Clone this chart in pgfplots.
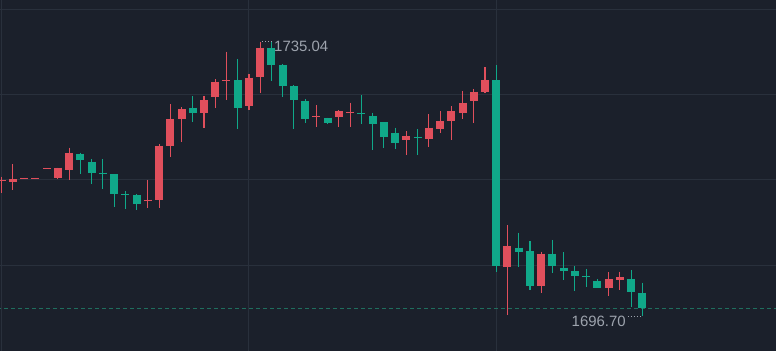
\documentclass[border=0pt]{standalone}
\usepackage{fontspec}
\setmainfont{Liberation Sans}
\usepackage{pgfplots}
\usepackage{pgfplotstable}
\pgfplotsset{compat=1.18}
\definecolor{bgc}{HTML}{1B202B}
\definecolor{gridc}{HTML}{29303C}
\definecolor{upc}{HTML}{E04F5C}
\definecolor{dnc}{HTML}{10A889}
\definecolor{lastc}{HTML}{1F6E5E}
\definecolor{lblc}{HTML}{9DA3AD}
\pgfplotstableread{
i o h l c
0 1715.51 1716.16 1713.84 1715.65
1 1715.46 1717.93 1714.30 1715.79
2 1715.88 1715.98 1715.88 1715.98
3 1715.88 1715.98 1715.88 1715.98
4 1717.23 1717.37 1717.23 1717.37
5 1716.02 1717.41 1715.84 1717.41
6 1717.09 1720.21 1715.70 1719.51
13 1712.83 1715.70 1711.83 1712.97
14 1712.90 1720.72 1711.83 1720.40
15 1720.44 1726.31 1718.95 1724.22
16 1724.26 1725.85 1721.05 1725.61
18 1725.10 1727.43 1723.00 1726.87
19 1727.25 1729.76 1725.79 1729.43
20 1729.50 1733.62 1726.87 1729.63
22 1725.99 1730.50 1725.47 1729.98
23 1730.04 1735.04 1727.89 1734.17
28 1724.45 1726.17 1723.14 1724.59
30 1724.54 1725.47 1723.14 1725.29
31 1725.12 1726.49 1723.14 1725.26
36 1721.28 1722.54 1719.19 1721.80
38 1721.42 1724.91 1720.35 1723.00
39 1722.82 1725.33 1722.30 1723.89
40 1723.89 1726.03 1721.28 1725.29
41 1725.10 1728.13 1724.22 1726.49
42 1726.69 1728.41 1723.70 1728.03
43 1728.03 1731.44 1727.81 1729.66
45 1703.61 1709.41 1696.84 1706.48
48 1700.82 1705.68 1699.98 1705.40
54 1700.54 1702.80 1699.45 1701.84
55 1701.73 1702.89 1700.40 1702.08
}\upT
\pgfplotstableread{
i o h l c
7 1719.33 1719.51 1716.53 1718.49
8 1718.25 1718.63 1715.18 1716.72
9 1716.74 1718.63 1714.44 1716.60
10 1716.53 1716.53 1711.97 1713.74
11 1713.77 1714.09 1711.65 1713.63
12 1713.56 1713.74 1711.51 1712.39
17 1725.79 1727.43 1723.84 1725.10
21 1729.62 1732.60 1722.82 1725.79
24 1734.17 1734.93 1729.57 1731.76
25 1731.76 1731.90 1727.33 1728.82
26 1728.78 1728.96 1722.82 1726.87
27 1726.73 1726.97 1723.62 1724.22
29 1724.40 1724.40 1723.52 1723.70
32 1725.03 1727.57 1723.52 1724.89
33 1724.59 1725.10 1719.84 1723.52
34 1723.75 1723.75 1720.12 1721.74
35 1722.30 1723.00 1719.98 1720.91
37 1721.67 1722.82 1719.19 1721.53
44 1729.66 1731.76 1702.89 1703.68
46 1706.24 1708.34 1703.50 1705.68
47 1705.71 1707.13 1700.33 1700.82
49 1705.40 1707.32 1702.64 1703.68
50 1703.45 1705.57 1701.73 1702.92
51 1702.92 1703.66 1700.15 1702.26
52 1702.26 1703.27 1700.72 1702.12
53 1701.56 1701.83 1700.65 1700.65
56 1701.87 1703.13 1698.00 1700.12
57 1699.98 1701.35 1696.70 1697.78
}\dnT
\pgfplotsset{candle/.style 2 args={draw=none, mark=none, error bars/.cd, y dir=minus, y explicit, error mark=none,
  error bar style={line width=#1, draw=#2, solid}}}
\begin{document}
\begin{tikzpicture}
\begin{axis}[
  width=776bp, height=351bp, scale only axis,
  xmin=-0.151, xmax=68.89, ymin=1691.81, ymax=1740.84,
  axis line style={draw=none},
  axis background/.style={fill=bgc},
  xtick={0,22,44}, ytick={1703.82,1715.70,1727.57,1739.58},
  xticklabels={}, yticklabels={},
  major tick length=0pt,
  grid=major, grid style={draw=gridc, line width=1bp},
  clip=true,
]
% current price line
\addplot[lastc, line width=1.2bp, dash pattern=on 4bp off 3bp] coordinates {(-1,1697.78) (70,1697.78)};
% up wicks and bodies
\addplot[candle={1.1bp}{upc}] table[x=i, y=h, y error minus expr=\thisrow{h}-\thisrow{l}] {\upT};
\addplot[candle={8bp}{upc}] table[x=i, y=c, y error minus expr=\thisrow{c}-\thisrow{o}] {\upT};
% down wicks and bodies
\addplot[candle={1.1bp}{dnc}] table[x=i, y=h, y error minus expr=\thisrow{h}-\thisrow{l}] {\dnT};
\addplot[candle={8bp}{dnc}] table[x=i, y=o, y error minus expr=\thisrow{o}-\thisrow{c}] {\dnT};
% leaders for high / low labels
\addplot[lblc, line width=0.9bp, dash pattern=on 1bp off 2bp] coordinates {(23.16,1735.0) (24.1,1735.0)};
\addplot[lblc, line width=0.9bp, dash pattern=on 1bp off 2bp] coordinates {(55.72,1696.70) (56.95,1696.70)};
\node[anchor=north west, inner sep=0pt, text=lblc, font=\fontsize{15}{16}\selectfont] at (axis cs:24.23,1735.15) {1735.04};
\node[anchor=north east, inner sep=0pt, text=lblc, font=\fontsize{15}{16}\selectfont] at (axis cs:55.54,1696.66) {1696.70};
\end{axis}
\pgfresetboundingbox
\path[use as bounding box] (current axis.south west) rectangle (current axis.north east);
\end{tikzpicture}
\end{document}
